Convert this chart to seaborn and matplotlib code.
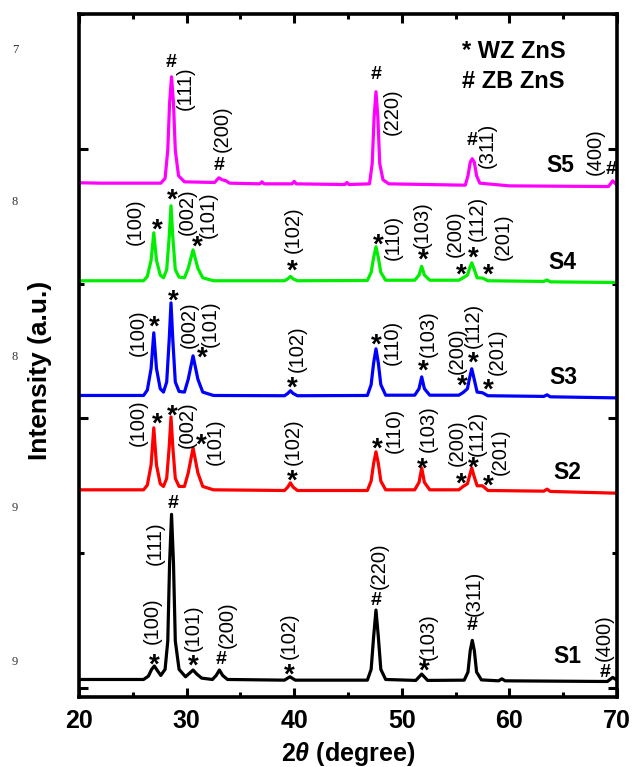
import matplotlib
matplotlib.use('Agg')
import matplotlib.pyplot as plt
import seaborn as sns
from matplotlib.ticker import MultipleLocator

# 2theta (deg) and intensity above each trace's own baseline
s1_x = [20.0, 26.0, 26.45, 26.75, 27.0, 27.25, 27.6, 28.0, 28.25, 28.42, 28.6, 28.78, 28.95, 29.3, 29.9,
        30.25, 30.6, 30.95, 31.4, 32.4, 32.75, 33.05, 33.35, 33.8, 39.1, 39.6, 40.1, 46.8, 47.15, 47.38,
        47.6, 47.82, 48.05, 48.5, 51.3, 51.85, 52.4, 55.8, 56.15, 56.36, 56.55, 56.74, 56.95, 57.4, 59.0,
        59.3, 59.6, 69.1, 69.6, 70.0]
s1_y = [15, 15, 40, 90, 115, 85, 45, 90, 300, 880, 1240, 880, 300, 90, 35,
        60, 85, 55, 25, 15, 45, 85, 45, 15, 10, 35, 10, 10, 90, 330,
        530, 330, 90, 15, 8, 55, 8, 10, 70, 230, 305, 230, 70, 12, 5,
        20, 5, 0, 30, 10]

wz_x = [20.0, 26.0, 26.35, 26.7, 26.95, 27.2, 27.55, 27.85, 28.15, 28.38, 28.55, 28.72, 28.95, 29.3, 29.8,
        30.15, 30.6, 31.05, 31.5, 32.5, 39.1, 39.4, 39.65, 39.9, 40.3, 46.8, 47.15, 47.38, 47.6, 47.82,
        48.05, 48.5, 51.2, 51.6, 51.85, 52.1, 52.6, 55.3, 55.7, 56.1, 56.3, 56.5, 56.7, 57.0, 57.5,
        58.0, 63.2, 63.5, 63.8, 70.0]
s2_y = [15, 15, 50, 200, 475, 200, 60, 40, 100, 330, 556, 330, 100, 40, 40,
        140, 326, 140, 40, 15, 10, 35, 67, 35, 10, 10, 80, 210, 297, 210,
        80, 15, 15, 70, 178, 70, 15, 15, 40, 60, 120, 178, 120, 45, 45,
        10, 5, 20, 3, -10]
s3_y = [10, 10, 50, 210, 475, 210, 60, 35, 110, 420, 697, 420, 110, 40, 35,
        130, 304, 130, 35, 10, 8, 25, 45, 25, 8, 10, 90, 250, 356, 250,
        90, 12, 12, 60, 148, 60, 12, 12, 32, 60, 140, 208, 140, 35, 30,
        8, 3, 15, 0, -8]
s4_y = [8, 8, 40, 160, 364, 160, 50, 30, 90, 330, 564, 330, 90, 35, 30,
        100, 237, 100, 30, 8, 8, 22, 40, 22, 8, 10, 70, 180, 260, 180,
        70, 12, 12, 50, 115, 50, 12, 12, 30, 50, 100, 141, 100, 30, 28,
        8, 3, 14, 0, -5]

s5_x = [20.0, 22.0, 27.6, 28.0, 28.25, 28.42, 28.6, 28.78, 28.95, 29.25, 29.8, 32.6, 33.0, 33.3, 33.6,
        34.0, 36.8, 37.0, 37.2, 39.8, 40.0, 40.2, 44.7, 44.9, 45.1, 47.0, 47.25, 47.43, 47.6, 47.77,
        47.95, 48.25, 48.8, 55.9, 56.15, 56.36, 56.55, 56.74, 56.95, 57.25, 60.0, 69.2, 69.6, 70.0]
s5_y = [8, 5, 5, 40, 250, 600, 794, 600, 250, 60, 15, 10, 45, 30, 25,
        5, 0, 15, 0, 0, 18, 0, -5, 10, -5, 0, 150, 500, 683, 500,
        150, 30, 0, -10, 60, 160, 186, 160, 60, 5, -15, -20, 22, -10]

samples = ['S1', 'S2', 'S3', 'S4', 'S5']
offsets = [48, 1455, 2160, 3013, 3740]
colors = ['black', '#ff0000', '#0000ff', '#00ee00', '#ff00ff']
traces_x = [s1_x, wz_x, wz_x, wz_x, s5_x]
traces_y = [s1_y, s2_y, s3_y, s4_y, s5_y]

# phase marks (* wurtzite, # zinc blende) and Miller indices
marks = [
    (28.55, 4660, '#'), (33.01, 3896, '#'), (47.60, 4571, '#'), (56.55, 4081, '#'), (69.44, 3866, '#'),
    (27.25, 3458, '*'), (28.64, 3680, '*'), (30.97, 3332, '*'), (39.80, 3154, '*'), (47.79, 3346, '*'),
    (51.97, 3235, '*'), (55.50, 3124, '*'), (56.62, 3250, '*'), (58.01, 3124, '*'),
    (26.97, 2738, '*'), (28.74, 2931, '*'), (31.43, 2508, '*'), (39.80, 2285, '*'), (47.60, 2604, '*'),
    (51.97, 2412, '*'), (55.59, 2300, '*'), (56.62, 2471, '*'), (58.01, 2271, '*'),
    (27.25, 2018, '*'), (28.64, 2078, '*'), (31.34, 1862, '*'), (39.80, 1595, '*'), (47.70, 1833, '*'),
    (51.88, 1684, '*'), (55.50, 1573, '*'), (56.62, 1692, '*'), (58.01, 1558, '*'),
    (28.74, 1388, '#'), (26.97, 237, '*'), (30.59, 223, '*'), (33.20, 230, '#'), (39.52, 156, '*'),
    (47.60, 668, '#'), (52.06, 186, '*'), (56.52, 482, '#'), (68.88, 134, '#'),
]
hkl = [
    (29.85, 4452, '(111)'), (33.29, 4148, '(200)'), (49.09, 4274, '(220)'), (57.95, 4022, '(311)'),
    (67.96, 3977, '(400)'),
    (25.20, 3458, '(100)'), (30.05, 3532, '(002)'), (31.99, 3510, '(101)'), (39.89, 3398, '(102)'),
    (49.18, 3346, '(110)'), (51.88, 3435, '(103)'), (54.94, 3369, '(200)'), (56.99, 3487, '(112)'),
    (59.41, 3346, '(201)'),
    (25.48, 2634, '(100)'), (30.2, 2693, '(002)'), (32.17, 2701, '(101)'), (40.26, 2515, '(102)'),
    (49.09, 2567, '(110)'), (52.43, 2627, '(103)'), (55.13, 2501, '(200)'), (56.62, 2686, '(112)'),
    (58.85, 2493, '(201)'),
    (25.48, 1966, '(100)'), (30.05, 1951, '(002)'), (32.64, 1825, '(101)'), (39.89, 1825, '(102)'),
    (49.28, 1907, '(110)'), (52.43, 1922, '(103)'), (55.13, 1818, '(200)'), (56.99, 1892, '(112)'),
    (59.13, 1751, '(201)'),
    (27.06, 1076, '(111)'), (26.78, 497, '(100)'), (30.59, 445, '(101)'), (33.75, 467, '(200)'),
    (39.52, 386, '(102)'), (47.88, 905, '(220)'), (52.43, 378, '(103)'), (56.71, 705, '(311)'),
    (68.79, 371, '(400)'),
]
label_pos = [(65.35, 230), (65.35, 1595), (64.98, 2300), (64.89, 3154), (64.70, 3873)]

sns.set_style('ticks')
plt.rcParams['font.family'] = ['Liberation Sans', 'DejaVu Sans']
plt.rcParams['text.color'] = 'black'
plt.rcParams['axes.labelcolor'] = 'black'
plt.rcParams['mathtext.fontset'] = 'custom'
plt.rcParams['mathtext.rm'] = 'Liberation Sans:bold'
plt.rcParams['mathtext.it'] = 'Liberation Sans:italic:bold'

fig = plt.figure(figsize=(6.34, 7.67), dpi=100)
ax = fig.add_axes([79 / 634, 1 - 697 / 767, 538 / 634, 683 / 767])

for i in range(len(samples)):
    yy = [v + offsets[i] for v in traces_y[i]]
    sns.lineplot(x=traces_x[i], y=yy, ax=ax, color=colors[i], lw=2.3, estimator=None, sort=False)

for x, y, m in marks:
    fs = 20 if m == '*' else 14
    dy = 0.58 * fs if m == '*' else 0.35 * fs
    ax.annotate(m, (x, y), xytext=(0, -dy), textcoords='offset points',
                ha='center', va='baseline', fontsize=fs, fontweight='bold')
for x, y, t in hkl:
    ax.text(x, y, t, rotation=90, ha='center', va='center', fontsize=14.5)
for s, (x, y) in zip(samples, label_pos):
    ax.text(x, y, s, ha='center', va='center', fontsize=16.5, fontweight='bold')

ax.text(55.59, 4719, '* WZ ZnS', ha='left', va='center', fontsize=17, fontweight='bold')
ax.text(55.59, 4497, '# ZB ZnS', ha='left', va='center', fontsize=17, fontweight='bold')

ax.set_xlim(20, 70)
ax.set_ylim(-67, 5000)
ax.xaxis.set_major_locator(MultipleLocator(10))
ax.xaxis.set_minor_locator(MultipleLocator(5))
ax.yaxis.set_major_locator(MultipleLocator(2000))
ax.yaxis.set_minor_locator(MultipleLocator(1000))
ax.tick_params(which='both', direction='in', top=True, right=True, width=2.2,
               colors='black', labelcolor='black')
ax.tick_params(which='major', length=6.5)
ax.tick_params(which='minor', length=3.5)
ax.tick_params(axis='x', labelsize=18, pad=9)
ax.tick_params(axis='y', labelleft=False)
for lab in ax.get_xticklabels():
    lab.set_fontweight('bold')
for sp in ax.spines.values():
    sp.set_linewidth(2.6)
    sp.set_color('black')

ax.set_xlabel(r'2$\theta$ (degree)', fontsize=18, fontweight='bold')
ax.xaxis.set_label_coords(0.5, -(754 - 697) / 683)
ax.xaxis.label.set_va('center')
ax.set_ylabel('Intensity (a.u.)', fontsize=19, fontweight='bold')
ax.yaxis.set_label_coords(-39 / 538, (697 - 370) / 683)
ax.yaxis.label.set_va('center')

# stray page digits at the left margin
for d, py in [('7', 50), ('8', 202), ('8', 357), ('9', 508), ('9', 662)]:
    fig.text(15 / 634, 1 - py / 767, d, ha='center', va='center', fontsize=9,
             family='Liberation Serif', color='#333333')

fig.savefig('out.png', dpi=100)
